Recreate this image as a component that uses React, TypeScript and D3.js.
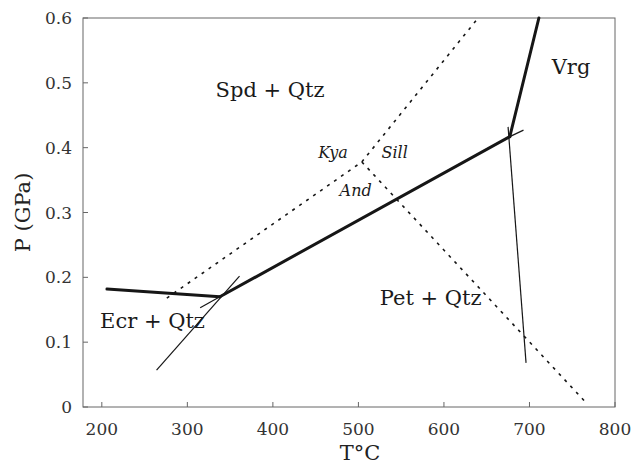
import React, { useEffect } from 'react';
import * as d3 from 'd3';

type Pt = [number, number];

// phase boundaries, [T °C, P GPa]
const ecrSpd: Pt[] = [[206, 0.182], [338, 0.17]];
const spdPet: Pt[] = [[338, 0.17], [677, 0.417]];
const spdVrg: Pt[] = [[677, 0.417], [711, 0.6]];
const ecrPetThin: Pt[] = [[264, 0.057], [361, 0.202]];
const spdPetExt: Pt[] = [[677, 0.417], [693, 0.427]];
const petVrgThin: Pt[] = [[675, 0.432], [696, 0.068]];
const barbTp1: Pt[] = [[315, 0.153], [338, 0.17]];
const kyaAnd: Pt[] = [[276, 0.168], [504, 0.378]];
const kyaSill: Pt[] = [[504, 0.378], [640, 0.6]];
const andSill: Pt[] = [[504, 0.378], [768, 0.004]];

const xTicks = [200, 300, 400, 500, 600, 700, 800];
const yTicks = [0, 0.1, 0.2, 0.3, 0.4, 0.5, 0.6];

const fieldLabels = [
  { text: 'Spd + Qtz', t: 333, p: 0.478 },
  { text: 'Vrg', t: 726, p: 0.514 },
  { text: 'Pet + Qtz', t: 525, p: 0.157 },
  { text: 'Ecr + Qtz', t: 198, p: 0.122 },
];
const mineralLabels = [
  { text: 'Kya', t: 453, p: 0.384 },
  { text: 'Sill', t: 527, p: 0.384 },
  { text: 'And', t: 478, p: 0.326 },
];

const W = 635;
const H = 464;
const margin = { top: 18, right: 20, bottom: 57, left: 83 };

const App: React.FC = () => {
  useEffect(() => {
    document.body.style.margin = '0';
  }, []);

  const x = d3.scaleLinear().domain([178, 800]).range([margin.left, W - margin.right]);
  const y = d3.scaleLinear().domain([0, 0.6]).range([H - margin.bottom, margin.top]);
  const line = d3.line<Pt>().x((d) => x(d[0])).y((d) => y(d[1]));

  const ink = '#161616';
  const font = 'DejaVu Serif';

  return (
    <svg width={W} height={H} style={{ display: 'block', background: '#fff' }}>
      <g fontFamily={font}>
        {/* frame */}
        <rect
          x={x(178)}
          y={y(0.6)}
          width={x(800) - x(178)}
          height={y(0) - y(0.6)}
          fill="none"
          stroke="#666"
          strokeWidth={1}
        />
        {xTicks.map((t) => (
          <g key={t}>
            <line x1={x(t)} x2={x(t)} y1={y(0)} y2={y(0) - 5} stroke="#666" />
            <text x={x(t)} y={435} textAnchor="middle" fontSize={17} fill="#333">
              {t}
            </text>
          </g>
        ))}
        {yTicks.map((p) => (
          <g key={p}>
            <line x1={x(178)} x2={x(178) + 5} y1={y(p)} y2={y(p)} stroke="#666" />
            <text x={72} y={y(p) + 6} textAnchor="end" fontSize={17} fill="#333">
              {p === 0 ? '0' : p.toFixed(1)}
            </text>
          </g>
        ))}
        <text x={360} y={460} textAnchor="middle" fontSize={21} fill="#222">
          T°C
        </text>
        <text
          transform={`translate(30,${(y(0) + y(0.6)) / 2}) rotate(-90)`}
          textAnchor="middle"
          fontSize={21}
          fill="#222"
        >
          P (GPa)
        </text>

        {/* dashed aluminosilicate lines */}
        {[kyaAnd, kyaSill, andSill].map((d, i) => (
          <path key={i} d={line(d) ?? ''} fill="none" stroke={ink} strokeWidth={1.6} strokeDasharray="3,5.5" />
        ))}

        {/* thin lines */}
        {[ecrPetThin, spdPetExt, petVrgThin, barbTp1].map((d, i) => (
          <path key={i} d={line(d) ?? ''} fill="none" stroke={ink} strokeWidth={1.2} />
        ))}

        {/* thick reaction lines */}
        {[ecrSpd, spdPet, spdVrg].map((d, i) => (
          <path key={i} d={line(d) ?? ''} fill="none" stroke={ink} strokeWidth={3} strokeLinecap="round" />
        ))}

        {fieldLabels.map((l) => (
          <text key={l.text} x={x(l.t)} y={y(l.p)} fontSize={21} fill="#1a1a1a">
            {l.text}
          </text>
        ))}
        {mineralLabels.map((l) => (
          <text key={l.text} x={x(l.t)} y={y(l.p)} fontSize={16} fontStyle="italic" fill="#1a1a1a">
            {l.text}
          </text>
        ))}
      </g>
    </svg>
  );
};

export default App;
